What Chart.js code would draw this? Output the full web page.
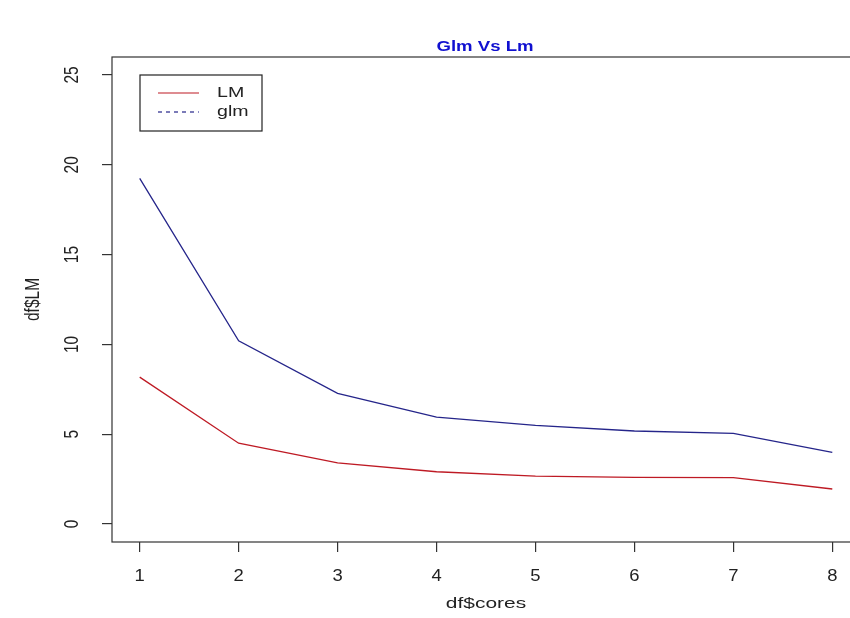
<!DOCTYPE html>
<html>
<head>
<meta charset="utf-8">
<script src="https://cdn.jsdelivr.net/npm/chart.js@4/dist/chart.umd.min.js"></script>
<style>
  html, body { margin: 0; padding: 0; background: #fff; overflow: hidden; }
  #wrap { width: 862px; height: 618px; }
</style>
</head>
<body>
<div id="wrap"><canvas id="c" width="862" height="618"></canvas></div>
<script>
// Timing per number of cores
const cores = [1, 2, 3, 4, 5, 6, 7, 8];
const lmTimes = [8.18, 4.5, 3.4, 2.91, 2.67, 2.6, 2.58, 1.95];
const glmTimes = [19.24, 10.2, 7.27, 5.95, 5.49, 5.18, 5.05, 3.99];
const yTicks = [0, 5, 10, 15, 20, 25];
const xTicks = [1, 2, 3, 4, 5, 6, 7, 8];

const chartTitle = 'Glm Vs Lm';
const xTitle = 'df$cores';
const yTitle = 'df$LM';

const FONT = '"Liberation Sans", Arial, sans-serif';
const INK = '#222';
const LM_COLOR = '#BE1A24';
const GLM_COLOR = '#25258A';

const toPoints = (xs, ys) => xs.map((x, i) => ({ x, y: ys[i] }));

// text drawn with a horizontal widening factor sx
function wideText(ctx, str, x, y, font, color, sx, opts = {}) {
  ctx.save();
  ctx.font = font;
  ctx.fillStyle = color;
  ctx.textAlign = opts.align || 'center';
  ctx.textBaseline = 'middle';
  ctx.translate(x, y);
  ctx.scale(sx, 1);
  if (opts.vertical) ctx.rotate(-Math.PI / 2);
  ctx.fillText(str, 0, 0);
  ctx.restore();
}

// Box, tick labels, titles and legend in base-graphics style
const frame = {
  id: 'frame',
  afterDraw(chart) {
    const { ctx, chartArea: a, scales } = chart;
    ctx.save();
    ctx.strokeStyle = '#333';
    ctx.lineWidth = 1.2;
    ctx.strokeRect(a.left, a.top, a.right - a.left, a.bottom - a.top);
    ctx.restore();

    yTicks.forEach(v => {
      wideText(ctx, String(v), 72, scales.y.getPixelForValue(v), '15.5px ' + FONT, INK, 1.3, { vertical: true });
    });
    xTicks.forEach(v => {
      wideText(ctx, String(v), scales.x.getPixelForValue(v), 577, '16px ' + FONT, INK, 1.15);
    });

    const cx = (a.left + a.right) / 2;
    wideText(ctx, xTitle, cx, 604, '15.5px ' + FONT, INK, 1.35);
    wideText(ctx, yTitle, 33, (a.top + a.bottom) / 2, '15.5px ' + FONT, INK, 1.3, { vertical: true });
    wideText(ctx, chartTitle, 485, 47, 'bold 15px ' + FONT, '#1010D0', 1.24);

    // legend
    const lx = 140, ly = 75, lw = 122, lh = 56;
    ctx.save();
    ctx.fillStyle = '#fff';
    ctx.fillRect(lx, ly, lw, lh);
    ctx.strokeStyle = '#222';
    ctx.lineWidth = 1.2;
    ctx.strokeRect(lx, ly, lw, lh);
    chart.data.datasets.forEach((ds, i) => {
      const yy = ly + 18 + i * 19;
      ctx.strokeStyle = ds.borderColor;
      ctx.lineWidth = 1.2;
      ctx.setLineDash(i === 1 ? [4, 4] : []);
      ctx.beginPath();
      ctx.moveTo(lx + 18, yy);
      ctx.lineTo(lx + 59, yy);
      ctx.stroke();
      ctx.setLineDash([]);
      wideText(ctx, ds.label, lx + 77, yy, '14.5px ' + FONT, INK, 1.35, { align: 'left' });
    });
    ctx.restore();
  }
};

new Chart(document.getElementById('c'), {
  type: 'line',
  data: {
    datasets: [
      { label: 'LM', data: toPoints(cores, lmTimes), borderColor: LM_COLOR, borderWidth: 1.3, pointRadius: 0, tension: 0, fill: false },
      { label: 'glm', data: toPoints(cores, glmTimes), borderColor: GLM_COLOR, borderWidth: 1.3, pointRadius: 0, tension: 0, fill: false }
    ]
  },
  options: {
    responsive: false,
    animation: false,
    events: [],
    layout: { padding: { top: 57, right: 2, left: 0, bottom: 0 } },
    plugins: { legend: { display: false }, title: { display: false }, tooltip: { enabled: false } },
    scales: {
      x: {
        type: 'linear',
        min: 0.72,
        max: 8.28,
        afterBuildTicks: s => { s.ticks = xTicks.map(v => ({ value: v })); },
        afterFit: s => { s.height = 76; },
        grid: { drawOnChartArea: false, drawTicks: true, tickLength: 10, color: '#333', lineWidth: 1.2 },
        border: { display: false },
        ticks: { display: false }
      },
      y: {
        type: 'linear',
        min: -1,
        max: 26,
        afterBuildTicks: s => { s.ticks = yTicks.map(v => ({ value: v })); },
        afterFit: s => { s.width = 112; },
        grid: { drawOnChartArea: false, drawTicks: true, tickLength: 10, color: '#333', lineWidth: 1.2 },
        border: { display: false },
        ticks: { display: false }
      }
    }
  },
  plugins: [frame]
});
</script>
</body>
</html>
